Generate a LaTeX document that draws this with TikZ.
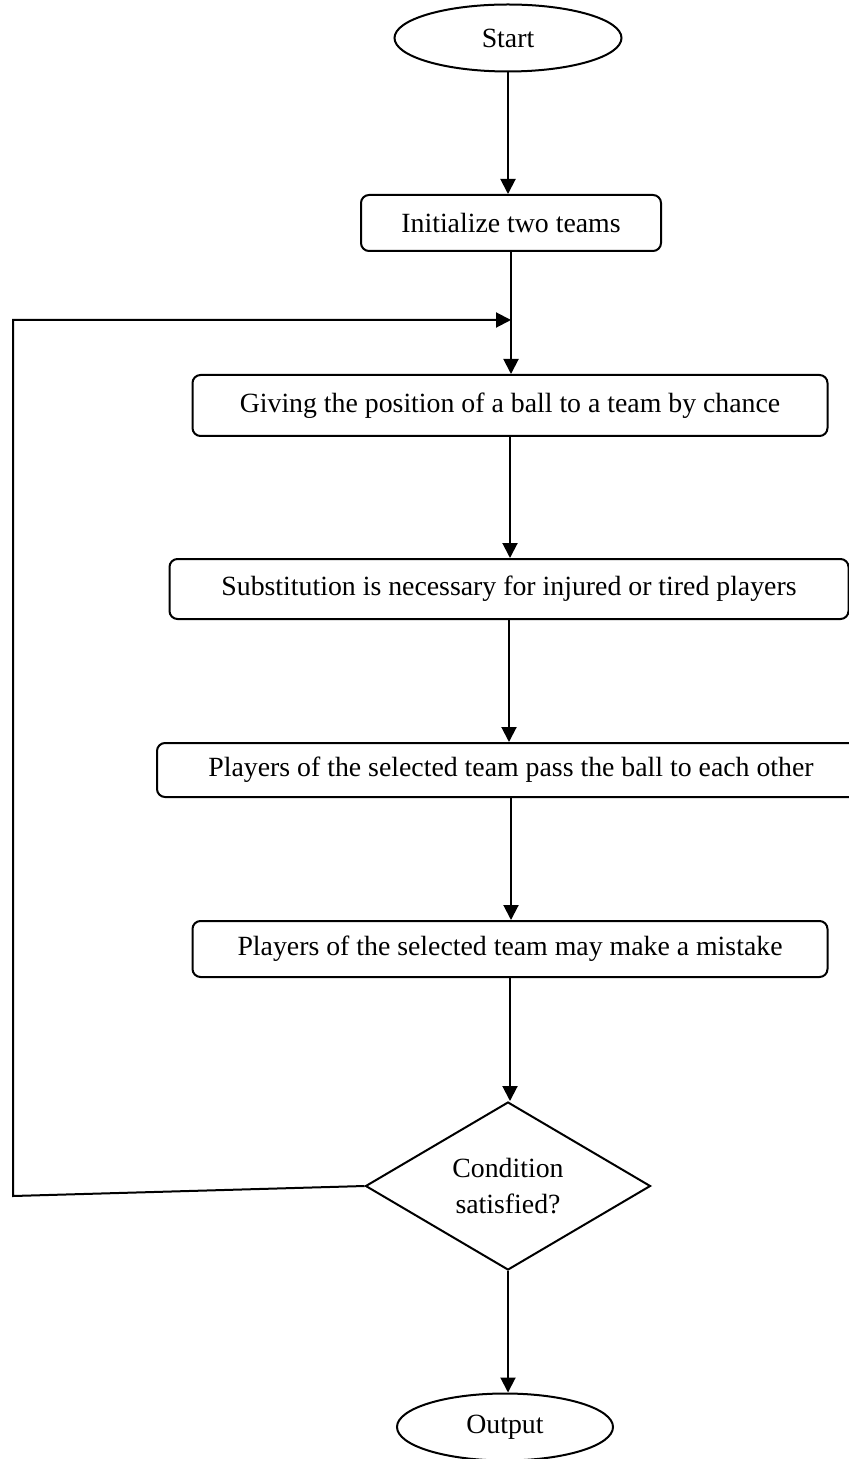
\documentclass[tikz,border=0pt]{standalone}
\usepackage{fontspec}
\setmainfont{Liberation Serif}
\usepackage{tikz}
\usetikzlibrary{shapes.geometric}
\usetikzlibrary{arrows.meta}

\tikzset{
  flowline/.style={line width=1pt,-{Triangle[length=7.5pt,width=7.5pt]}},
  procbox/.style={draw,line width=1pt,rounded corners=4pt,inner sep=0pt},
  termnode/.style={draw,ellipse,line width=1pt,inner sep=0pt},
  testnode/.style={draw,diamond,line width=1pt,inner sep=0pt,align=center}
}

\begin{document}
\begin{tikzpicture}[x=0.5pt,y=-0.5pt,font=\fontsize{13.9}{18}\selectfont]
    \useasboundingbox (0,0) rectangle (849,1459);
    \node[termnode,minimum width=113.5pt,minimum height=33.5pt] (start) at (508,38) {Start};
    \node[procbox,minimum width=150pt,minimum height=28pt] (init) at (511,223) {Initialize two teams};
    \node[procbox,minimum width=317.5pt,minimum height=30.5pt] (give) at (510,405.5)
      {Giving the position of a ball to a team by chance};
    \node[procbox,minimum width=339.5pt,minimum height=30pt] (subst) at (509,589)
      {Substitution is necessary for injured or tired players};
    \node[procbox,minimum width=354pt,minimum height=27pt] (pass) at (511,770)
      {Players of the selected team pass the ball to each other};
    \node[procbox,minimum width=317.5pt,minimum height=28pt] (mistake) at (510,949)
      {Players of the selected team may make a mistake};
    \node[testnode,minimum width=142.5pt,minimum height=84pt] (cond) at (508,1186)
      {Condition\\satisfied?};
    \node[termnode,minimum width=108pt,minimum height=33.5pt] (output) at (505,1427) {Output};
    % loop back
    \coordinate (join) at (511,320);
    \coordinate (loopbot) at (13,1196);
    \coordinate (looptop) at (13,320);

    \draw[flowline] (start) -- (start.south |- init.north);
    \draw[line width=1pt] (init.south) -- (join);
    \draw[flowline] (join) -- (join |- give.north);
    \draw[flowline] (give.south) -- (give.south |- subst.north);
    \draw[flowline] (subst.south) -- (subst.south |- pass.north);
    \draw[flowline] (pass.south) -- (pass.south |- mistake.north);
    \draw[flowline] (mistake.south) -- (mistake.south |- cond.north);
    \draw[flowline] (cond.south) -- (cond.south |- output.north);
    \draw[flowline] (cond.west) -- (loopbot) -- (looptop) -- (join);
\end{tikzpicture}
\end{document}
